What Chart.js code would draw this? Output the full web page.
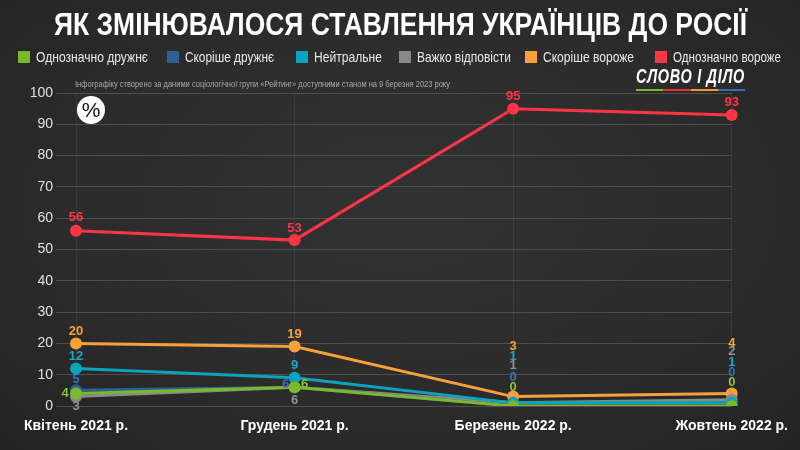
<!DOCTYPE html>
<html lang="uk">
<head>
<meta charset="UTF-8">
<title>Як змінювалося ставлення українців до Росії</title>
<script src="https://cdn.jsdelivr.net/npm/chart.js"></script>
<style>
body {
    margin: 0;
    background: #2a2a2a;
    font-family: "Liberation Sans", Arial, sans-serif;
}
#wrap {
    position: relative;
    width: 800px;
    height: 450px;
    overflow: hidden;
    background: radial-gradient(ellipse at 50% 45%, #323232 0%, #2b2b2b 60%, #232323 100%);
}
#chart { position: absolute; left: 0; top: 0; }
.fit { position: absolute; white-space: nowrap; transform-origin: 0 0; }
#title { left: 54px; top: 7px; color: #fff; font-weight: bold; font-size: 31px; }
.legend-box { position: absolute; top: 51px; width: 12px; height: 12px; }
.legend-text { top: 48px; color: #e8e8e8; font-size: 15px; }
#note { left: 75px; top: 79px; color: #aaa; font-size: 9px; }
#logo { left: 636px; top: 64px; color: #fff; font-weight: bold; font-style: italic; font-size: 21px; letter-spacing: 1px; }
#logoBar { position: absolute; left: 636px; top: 89px; width: 109px; height: 2px;
    background: linear-gradient(90deg, #7ab929 0 25%, #e3303c 25% 50%, #f29a2e 50% 75%, #3b6ea8 75% 100%); }
#pct { position: absolute; left: 77px; top: 96px; width: 28px; height: 28px; border-radius: 50%;
    background: #fff; color: #111; font-size: 21px; line-height: 28px; text-align: center; }
</style>
</head>
<body>
<div id="wrap">
    <canvas id="chart" width="800" height="450"></canvas>
    <div id="title" class="fit" data-w="693">ЯК ЗМІНЮВАЛОСЯ СТАВЛЕННЯ УКРАЇНЦІВ ДО РОСІЇ</div>
    <div id="legend"></div>
    <div id="note" class="fit" data-w="375">Інфографіку створено за даними соціологічної групи «Рейтинг» доступними станом на 9 березня 2023 року</div>
    <div id="logo" class="fit" data-w="109">СЛОВО І ДІЛО</div>
    <div id="logoBar"></div>
    <div id="pct">%</div>
</div>
<script>
// data
const categories = ["Квітень 2021 р.", "Грудень 2021 р.", "Березень 2022 р.", "Жовтень 2022 р."];
const seriesNames = ["Однозначно дружнє", "Скоріше дружнє", "Нейтральне", "Важко відповісти", "Скоріше вороже", "Однозначно вороже"];
const clearlyFriendly = [4, 6, 0, 0];
const ratherFriendly = [5, 6, 0, 0];
const neutral = [12, 9, 1, 1];
const hardToSay = [3, 6, 1, 2];
const ratherHostile = [20, 19, 3, 4];
const clearlyHostile = [56, 53, 95, 93];
const yTicks = [0, 10, 20, 30, 40, 50, 60, 70, 80, 90, 100];

const seriesValues = [clearlyFriendly, ratherFriendly, neutral, hardToSay, ratherHostile, clearlyHostile];
const colors = ["#7ab929", "#2f5f97", "#0ba3bd", "#8a8a8a", "#f8a13a", "#ff3444"];
const labelColors = ["#86c234", "#3670ae", "#1aa6c9", "#8f8f8f", "#f8a13a", "#ff3444"];

// legend (left edges of boxes / text widths)
const legendX = [18, 167, 296, 399, 525, 655];
const legendW = [112, 89, 68, 94, 91, 108];
const legend = document.getElementById("legend");
seriesNames.forEach((name, i) => {
    const box = document.createElement("div");
    box.className = "legend-box";
    box.style.left = legendX[i] + "px";
    box.style.background = colors[i];
    legend.appendChild(box);
    const txt = document.createElement("div");
    txt.className = "fit legend-text";
    txt.style.left = (legendX[i] + 18) + "px";
    txt.dataset.w = legendW[i];
    txt.textContent = name;
    legend.appendChild(txt);
});

// squeeze text to the width it has in the picture
document.querySelectorAll(".fit").forEach(el => {
    const w = el.getBoundingClientRect().width;
    el.style.transform = "scaleX(" + (el.dataset.w / w) + ")";
});

// label offsets [dx, dy] from each point
const labelShift = [
    [[-11, 0], [10, -3], [0, -19], [0, -24]],
    [[0, -11], [-9, -3], [0, -29], [0, -34]],
    [[0, -12], [0, -12], [0, -46], [0, -40]],
    [[0, 10], [0, 13], [0, -37], [0, -48]],
    [[0, -12], [0, -12], [0, -50], [0, -50]],
    [[0, -13], [0, -12], [0, -12], [0, -12]]
];

const valueLabels = {
    id: "valueLabels",
    afterDatasetsDraw(chart) {
        const ctx = chart.ctx;
        ctx.save();
        ctx.font = "bold 13px 'Liberation Sans Narrow', 'Arial Narrow', 'Liberation Sans', sans-serif";
        ctx.textAlign = "center";
        ctx.textBaseline = "middle";
        chart.data.datasets.forEach((ds, i) => {
            chart.getDatasetMeta(i).data.forEach((pt, j) => {
                const [dx, dy] = labelShift[i][j];
                ctx.fillStyle = labelColors[i];
                ctx.fillText(ds.data[j], pt.x + dx, pt.y + dy);
            });
        });
        ctx.restore();
    }
};

new Chart(document.getElementById("chart"), {
    type: "line",
    data: {
        labels: categories,
        datasets: seriesNames.map((name, i) => ({
            label: name,
            data: seriesValues[i],
            borderColor: colors[i],
            backgroundColor: colors[i],
            borderWidth: 3,
            pointRadius: 6,
            pointBorderWidth: 0,
            pointHoverRadius: 6,
            tension: 0
        }))
    },
    options: {
        responsive: false,
        animation: false,
        layout: { padding: { top: 93, right: 55, left: 0, bottom: 0 } },
        plugins: { legend: { display: false }, tooltip: { enabled: false } },
        scales: {
            x: {
                offset: false,
                grid: { color: "rgba(255,255,255,0.07)", drawTicks: false },
                border: { display: false },
                ticks: { color: "#fff", font: { size: 14, weight: "bold" }, padding: 12, maxRotation: 0 },
                afterFit(scale) { scale.height = 44; }
            },
            y: {
                min: 0,
                max: 100,
                afterBuildTicks(scale) { scale.ticks = yTicks.map(v => ({ value: v })); },
                grid: { color: "#4e4e4e", tickLength: 20 },
                border: { display: false },
                ticks: { color: "#e0e0e0", font: { size: 14 }, padding: 3 },
                afterFit(scale) { scale.width = 76; }
            }
        }
    },
    plugins: [valueLabels]
});
</script>
</body>
</html>
